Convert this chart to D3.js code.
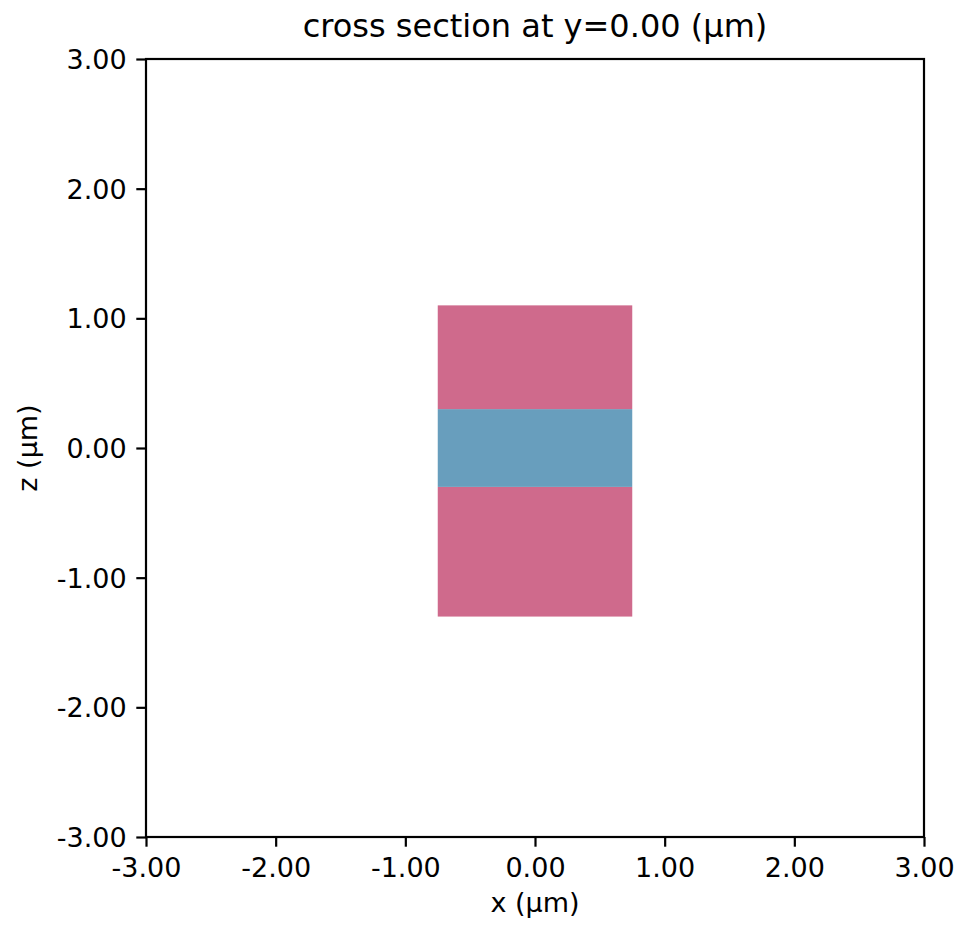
<!DOCTYPE html>
<html>
<head>
<meta charset="utf-8">
<script src="https://cdn.jsdelivr.net/npm/d3@7"></script>
<style>
  body { margin: 0; background: #fff; }
  svg text { font-family: "DejaVu Sans", sans-serif; fill: #000; }
</style>
</head>
<body>
<div id="chart"></div>
<script>
// layers in the cross section (x and z in µm)
const layerNames = ["bottom cladding", "core", "top cladding"];
const layerX0 = [-0.75, -0.75, -0.75];
const layerX1 = [0.75, 0.75, 0.75];
const layerZ0 = [-1.3, -0.3, 0.3];
const layerZ1 = [-0.3, 0.3, 1.1];
const layerMaterial = ["cladding", "core", "cladding"];

const xTicks = [-3, -2, -1, 0, 1, 2, 3];
const zTicks = [-3, -2, -1, 0, 1, 2, 3];

const titleText = "cross section at y=0.00 (μm)";
const xLabel = "x (μm)";
const zLabel = "z (μm)";

const width = 973, height = 940;
const margin = {top: 59, right: 49, bottom: 103, left: 146};
const innerW = width - margin.left - margin.right;
const innerH = height - margin.top - margin.bottom;

const colour = d3.scaleOrdinal()
  .domain(["cladding", "core"])
  .range(["#cf6a8c", "#689ebd"]);

const x = d3.scaleLinear().domain([-3, 3]).range([0, innerW]);
const z = d3.scaleLinear().domain([-3, 3]).range([innerH, 0]);

const svg = d3.select("#chart").append("svg")
  .attr("width", width)
  .attr("height", height);

const g = svg.append("g")
  .attr("transform", `translate(${margin.left}, ${margin.top})`);

// the rectangles
const layers = layerNames.map((name, i) => ({
  name: name,
  x0: layerX0[i], x1: layerX1[i],
  z0: layerZ0[i], z1: layerZ1[i],
  mat: layerMaterial[i]
}));

g.selectAll(".layer")
  .data(layers)
  .enter()
  .append("rect")
  .attr("class", "layer")
  .attr("x", d => x(d.x0))
  .attr("y", d => z(d.z1))
  .attr("width", d => x(d.x1) - x(d.x0))
  .attr("height", d => z(d.z0) - z(d.z1))
  .style("fill", d => colour(d.mat));

// axes
const fmt = d3.format(".2f");
const xAxis = d3.axisBottom(x).tickValues(xTicks)
  .tickFormat(d => fmt(d).replace("−", "-"))
  .tickSizeInner(9.7).tickSizeOuter(0).tickPadding(6);
const zAxis = d3.axisLeft(z).tickValues(zTicks)
  .tickFormat(d => fmt(d).replace("−", "-"))
  .tickSizeInner(9.7).tickSizeOuter(0).tickPadding(9.7);

const gx = g.append("g")
  .attr("transform", `translate(0, ${innerH})`)
  .call(xAxis);
const gz = g.append("g").call(zAxis);

[gx, gz].forEach(a => {
  a.select(".domain").remove();
  a.selectAll("line").style("stroke", "#000").style("stroke-width", 2.2);
  a.selectAll("text").style("font-size", "27px").style("font-family", "DejaVu Sans");
});
gx.selectAll("text").attr("dy", null).attr("y", 39.5);
gz.selectAll("text").attr("dy", "0.35em");

// frame
g.append("rect")
  .attr("width", innerW)
  .attr("height", innerH)
  .style("fill", "none")
  .style("stroke", "#000")
  .style("stroke-width", 2.2);

// title and labels
svg.append("text")
  .attr("x", margin.left + innerW / 2)
  .attr("y", 37)
  .attr("text-anchor", "middle")
  .style("font-size", "32px")
  .text(titleText);

svg.append("text")
  .attr("x", margin.left + innerW / 2)
  .attr("y", 912)
  .attr("text-anchor", "middle")
  .style("font-size", "27px")
  .text(xLabel);

svg.append("text")
  .attr("transform", `translate(37, ${margin.top + innerH / 2}) rotate(-90)`)
  .attr("text-anchor", "middle")
  .style("font-size", "27px")
  .text(zLabel);
</script>
</body>
</html>
